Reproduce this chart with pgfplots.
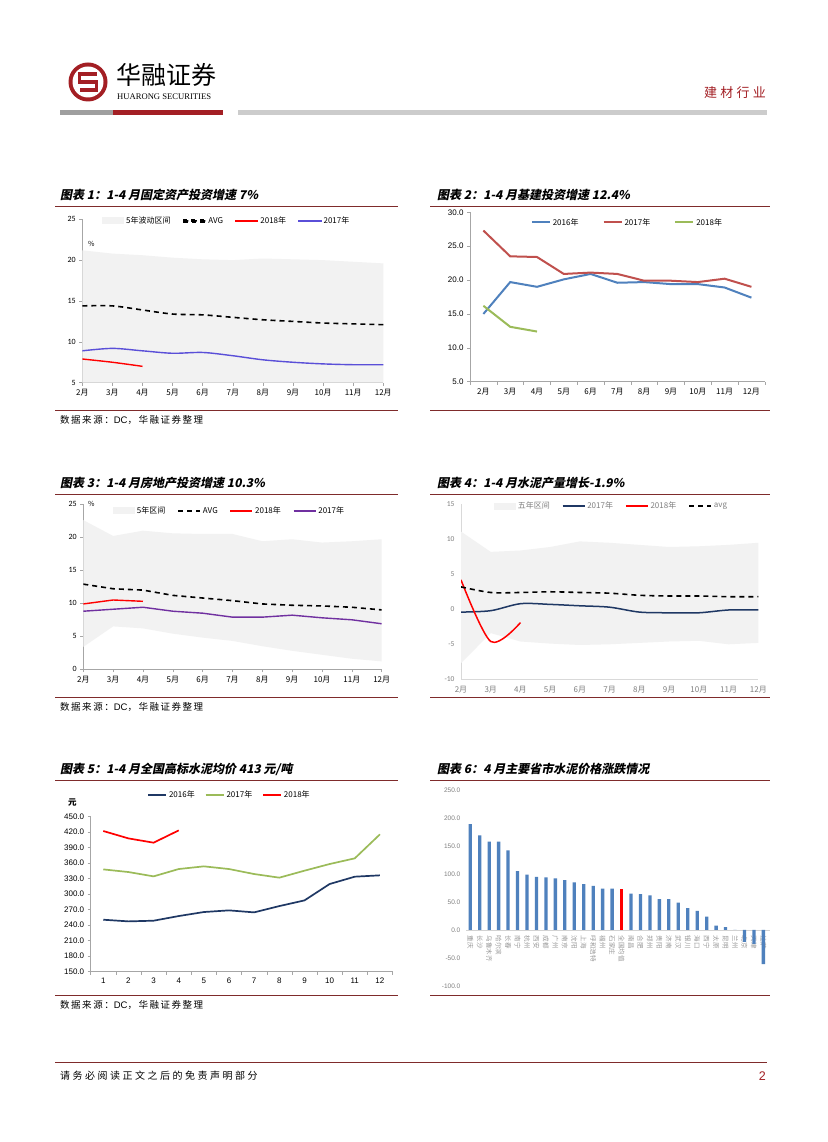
\documentclass[border=0pt]{standalone}
\usepackage{fontspec}
\setmainfont{Noto Sans CJK SC}
\newfontfamily\tfont{Noto Sans CJK SC}[FakeSlant=0.2]
\newfontfamily\spaced{Noto Sans CJK SC}[LetterSpace=25]
\newfontfamily\srcfont{Noto Sans CJK SC}[LetterSpace=16]
\newfontfamily\carl{Carlito}
\newfontfamily\arial{Liberation Sans}
\newfontfamily\tms{Liberation Serif}
\usepackage{pgfplots}
\pgfplotsset{compat=1.18}

\definecolor{hrred}{HTML}{A31F24}
\definecolor{rulec}{HTML}{7F2B2B}
\definecolor{band}{HTML}{F2F2F2}
\definecolor{c1blue}{HTML}{5A4FD8}
\definecolor{xlblue}{HTML}{4F81BD}
\definecolor{xlred}{HTML}{C0504D}
\definecolor{xlgreen}{HTML}{9BBB59}
\definecolor{navy}{HTML}{1F3864}
\definecolor{purp}{HTML}{7030A0}
\definecolor{axgray}{HTML}{A6A6A6}
\definecolor{txtgray}{HTML}{7F7F7F}

\tikzset{avgline/.style={black, line width=1.6pt, dash pattern=on 5pt off 4pt}}

\pgfplotsset{
  pagechart/.style={
    scale only axis, anchor=south west,
    axis x line*=bottom, axis y line*=left,
    axis line style={-, draw=axgray, line width=0.6pt},
    tick style={draw=axgray, line width=0.5pt},
    tick align=outside, major tick length=3pt,
    /pgf/number format/assume math mode=true,
    xticklabel style={font=\fontsize{8}{9}\selectfont},
    yticklabel style={font=\carl\fontsize{8}{9}\selectfont},
    legend style={draw=none, fill=none, font=\fontsize{8}{9}\selectfont,
      legend columns=-1, /tikz/every even column/.append style={column sep=10pt}},
    legend cell align=left,
  },
  % explicit legend samples
  leg/.style={legend image code/.code={\draw[#1] (0pt,0pt) -- (22pt,0pt);}},
  legs/.style={legend image code/.code={\draw[#1] (0pt,0pt) -- (18pt,0pt);}},
  % filled bar as line sample
  legf/.style={legend image code/.code={\fill[#1] (0pt,-0.7pt) rectangle (22pt,0.7pt);}},
  legdash/.style={legend image code/.code={\fill[black] (0pt,-0.8pt) rectangle (5pt,0.8pt) (8.5pt,-0.8pt) rectangle (13.5pt,0.8pt) (17pt,-0.8pt) rectangle (22pt,0.8pt);}},
  bandlegend/.style={legend image code/.code={\fill[band] (0pt,-3.5pt) rectangle (22pt,3.5pt);}},
  months/.style={xtick={2,...,12}, xticklabels={2月,3月,4月,5月,6月,7月,8月,9月,10月,11月,12月}},
}

\begin{document}
\begin{tikzpicture}[x=1pt,y=1pt]
\useasboundingbox (0,0) rectangle (827,1142);
\fill[white] (0,0) rectangle (827,1142);

% header
\fill[hrred] (88,1060) circle (19.5);
\fill[white] (88,1060) circle (15.5);
\draw[hrred, line width=3.6pt] (96.5,1068) -- (79.5,1068) -- (79.5,1060) -- (96.5,1060) -- (96.5,1052) -- (79.5,1052);
\node[anchor=west, inner sep=0] at (116,1067) {\fontsize{25}{25}\selectfont 华融证券};
\node[anchor=west, inner sep=0] at (117,1045) {\tms\fontsize{8.6}{9}\selectfont HUARONG SECURITIES};
\node[anchor=east, inner sep=0, text=hrred] at (766,1049) {\spaced\fontsize{13}{14}\selectfont 建材行业};
\fill[gray!75] (60,1027) rectangle (113,1032);
\fill[hrred] (113,1027) rectangle (223,1032);
\fill[gray!40] (238,1027) rectangle (767,1032);

% titles and rules
\node[anchor=west, inner sep=0] at (60,947) {\tfont\bfseries\fontsize{12}{13}\selectfont 图表 1：1-4 月固定资产投资增速 7\%};
\node[anchor=west, inner sep=0] at (437,947) {\tfont\bfseries\fontsize{12}{13}\selectfont 图表 2：1-4 月基建投资增速 12.4\%};
\node[anchor=west, inner sep=0] at (60,659) {\tfont\bfseries\fontsize{12}{13}\selectfont 图表 3：1-4 月房地产投资增速 10.3\%};
\node[anchor=west, inner sep=0] at (437,659) {\tfont\bfseries\fontsize{12}{13}\selectfont 图表 4：1-4 月水泥产量增长-1.9\%};
\node[anchor=west, inner sep=0] at (60,373) {\tfont\bfseries\fontsize{12}{13}\selectfont 图表 5：1-4 月全国高标水泥均价 413 元/吨};
\node[anchor=west, inner sep=0] at (437,373) {\tfont\bfseries\fontsize{12}{13}\selectfont 图表 6：4 月主要省市水泥价格涨跌情况};

\foreach \yy in {936,648,362} {
  \draw[rulec, line width=0.9pt] (55,\yy) -- (398,\yy);
  \draw[rulec, line width=0.9pt] (430,\yy) -- (770,\yy);
}
\foreach \yy in {732,445,147} {
  \draw[rulec, line width=0.7pt] (55,\yy) -- (398,\yy);
  \draw[rulec, line width=0.7pt] (430,\yy) -- (770,\yy);
}
\foreach \yy in {722,435,137} {
  \node[anchor=west, inner sep=0] at (60,\yy) {\srcfont\fontsize{9.5}{10}\selectfont 数据来源：{\arial DC}，华融证券整理};
}

% footer
\draw[rulec, line width=1pt] (55,79) -- (767,79);
\node[anchor=west, inner sep=0] at (60,66) {\spaced\fontsize{10}{11}\selectfont 请务必阅读正文之后的免责声明部分};
\node[anchor=east, inner sep=0, text=hrred] at (766,66) {\arial\fontsize{12.5}{13}\selectfont 2};

% chart 1
\begin{axis}[pagechart, at={(82.3pt,759.3pt)}, width=301pt, height=163.4pt,
  xmin=2, xmax=12, ymin=5, ymax=25, months, ytick={5,10,...,25},
  legend style={at={(0.48,0.99)}, anchor=center}]
\addplot[fill=band, draw=none, bandlegend] coordinates {(2,21.2)(3,20.8)(4,20.6)(5,20.3)(6,20.1)(7,20.0)(8,20.2)(9,20.1)(10,20.0)(11,19.8)(12,19.6)(12,5)(2,5)} -- cycle;
\addplot[avgline, smooth, legdash] coordinates {(2,14.4)(3,14.4)(4,13.9)(5,13.4)(6,13.3)(7,13.0)(8,12.7)(9,12.5)(10,12.3)(11,12.2)(12,12.1)};
\addplot[red, line width=1.4pt, smooth, legf=red] coordinates {(2,7.9)(3,7.5)(4,7.0)};
\addplot[c1blue, line width=1.4pt, smooth, legf=c1blue] coordinates {(2,8.9)(3,9.2)(4,8.9)(5,8.6)(6,8.7)(7,8.3)(8,7.8)(9,7.5)(10,7.3)(11,7.2)(12,7.2)};
\legend{5年波动区间,AVG,2018年,2017年}
\end{axis}
\node[anchor=west, inner sep=0] at (88,898) {\fontsize{7}{8}\selectfont \%};

% chart 2
\begin{axis}[pagechart, at={(470pt,760.3pt)}, width=294.8pt, height=169.4pt,
  xmin=1.5, xmax=12.5, ymin=5, ymax=30, months, ytick={5,10,...,30},
  every major x tick/.append style={draw=none},
  minor xtick={1.5,2.5,...,12.5},
  yticklabel style={font=\arial\fontsize{8}{9}\selectfont, /pgf/number format/.cd, fixed, fixed zerofill, precision=1},
  legend style={at={(0.534,0.94)}, anchor=center, /tikz/every even column/.append style={column sep=22pt}}]
\addplot[xlblue, line width=2pt, legs={xlblue, line width=2pt}] coordinates {(2,15.0)(3,19.7)(4,19.0)(5,20.1)(6,20.9)(7,19.6)(8,19.7)(9,19.4)(10,19.4)(11,18.9)(12,17.4)};
\addplot[xlred, line width=2pt, legs={xlred, line width=2pt}] coordinates {(2,27.3)(3,23.5)(4,23.4)(5,20.9)(6,21.1)(7,20.9)(8,19.9)(9,19.9)(10,19.7)(11,20.2)(12,19.0)};
\addplot[xlgreen, line width=2pt, legs={xlgreen, line width=2pt}] coordinates {(2,16.2)(3,13.1)(4,12.4)};
\legend{2016年,2017年,2018年}
\end{axis}

% chart 3
\begin{axis}[pagechart, at={(83.3pt,472.7pt)}, width=298.4pt, height=165pt,
  xmin=2, xmax=12, ymin=0, ymax=25, months, ytick={0,5,...,25},
  legend style={at={(0.49,0.96)}, anchor=center}]
\addplot[fill=band, draw=none, bandlegend] coordinates {(2,22.6)(3,20.2)(4,21.0)(5,20.6)(6,20.5)(7,20.5)(8,19.4)(9,19.7)(10,19.2)(11,19.4)(12,19.7)(12,1.2)(11,1.6)(10,2.2)(9,2.8)(8,3.5)(7,4.3)(6,4.8)(5,5.4)(4,6.2)(3,6.5)(2,3.4)} -- cycle;
\addplot[avgline, leg={avgline}] coordinates {(2,12.9)(3,12.2)(4,12.0)(5,11.2)(6,10.8)(7,10.4)(8,9.9)(9,9.7)(10,9.6)(11,9.4)(12,9.0)};
\addplot[red, line width=1.4pt, leg={red, line width=1.4pt}] coordinates {(2,9.9)(3,10.5)(4,10.3)};
\addplot[purp, line width=1.4pt, leg={purp, line width=1.4pt}] coordinates {(2,8.8)(3,9.1)(4,9.4)(5,8.8)(6,8.5)(7,7.9)(8,7.9)(9,8.2)(10,7.8)(11,7.5)(12,6.9)};
\legend{5年区间,AVG,2018年,2017年}
\end{axis}
\node[anchor=west, inner sep=0] at (88,638) {\fontsize{7}{8}\selectfont \%};

% chart 4
\begin{axis}[pagechart, at={(461pt,462.7pt)}, width=297.3pt, height=175pt,
  xmin=2, xmax=12, ymin=-10, ymax=15, months, ytick={-10,-5,...,15},
  axis line style={-, draw=gray!30}, tick style={draw=none},
  xticklabel style={text=txtgray}, yticklabel style={text=txtgray, font=\carl\fontsize{7.5}{9}\selectfont},
  legend style={at={(0.506,0.99)}, anchor=center, text=txtgray}]
\addplot[fill=band, draw=none, bandlegend] coordinates {(2,11.1)(3,8.2)(4,8.4)(5,8.9)(6,9.7)(7,9.5)(8,9.2)(9,8.9)(10,9.0)(11,9.2)(12,9.5)(12,-4.8)(11,-5.0)(10,-4.5)(9,-4.6)(8,-4.8)(7,-5.0)(6,-5.1)(5,-4.9)(4,-4.6)(3,-3.4)(2,-7.7)} -- cycle;
\addplot[navy, line width=1.5pt, smooth, leg={navy, line width=1.5pt}] coordinates {(2,-0.4)(3,-0.2)(4,0.8)(5,0.7)(6,0.5)(7,0.3)(8,-0.4)(9,-0.5)(10,-0.5)(11,-0.1)(12,-0.1)};
\addplot[red, line width=1.5pt, smooth, leg={red, line width=1.5pt}] coordinates {(2,4.2)(3,-4.6)(4,-1.9)};
\addplot[avgline, smooth, leg={avgline}] coordinates {(2,3.2)(3,2.4)(4,2.4)(5,2.5)(6,2.4)(7,2.3)(8,2.0)(9,1.9)(10,1.9)(11,1.8)(12,1.8)};
\legend{五年区间,2017年,2018年,avg}
\end{axis}

% chart 5
\begin{axis}[pagechart, at={(90.7pt,170.3pt)}, width=301.8pt, height=155pt,
  xmin=0.5, xmax=12.5, ymin=150, ymax=450, xtick={1,...,12}, ytick={150,180,...,450},
  every major x tick/.append style={draw=none},
  minor xtick={0.5,1.5,...,12.5},
  xticklabel style={font=\arial\fontsize{8}{9}\selectfont},
  yticklabel style={font=\arial\fontsize{8}{9}\selectfont, /pgf/number format/.cd, fixed, fixed zerofill, precision=1},
  legend style={at={(0.46,1.14)}, anchor=center, /tikz/every even column/.append style={column sep=8pt}}]
\addplot[navy, line width=1.7pt, legs={navy, line width=1.7pt}] coordinates {(1,250.6)(2,247.4)(3,248.7)(4,257.7)(5,265.5)(6,268.7)(7,264.8)(8,277)(9,288)(10,319.7)(11,333.9)(12,336.5)};
\addplot[xlgreen, line width=1.7pt, legs={xlgreen, line width=1.7pt}] coordinates {(1,348)(2,342.9)(3,334.5)(4,348.7)(5,353.9)(6,348.7)(7,339)(8,332)(9,345.5)(10,358.4)(11,369.4)(12,415.8)};
\addplot[red, line width=1.7pt, legs={red, line width=1.7pt}] coordinates {(1,422.3)(2,408)(3,399.7)(4,423.5)};
\legend{2016年,2017年,2018年}
\end{axis}
\node[anchor=west, inner sep=0] at (68,339) {\bfseries\fontsize{8.5}{9}\selectfont 元};

% chart 6
\begin{axis}[scale only axis, anchor=south west, at={(466pt,156pt)}, width=304pt, height=196pt,
  xmin=-0.45, xmax=31.7, ymin=-100, ymax=250,
  axis x line=middle, axis y line=left,
  x axis line style={-, draw=gray!35}, y axis line style={draw=none},
  hide obscured x ticks=false, hide obscured y ticks=false,
  tick style={draw=none},
  ytick={-100,-50,...,250}, xtick={0,...,31},
  xticklabels={重庆,长沙,乌鲁木齐,哈尔滨,长春,南宁,杭州,西安,成都,广州,南京,沈阳,上海,呼和浩特,福州,石家庄,全国均值,南昌,合肥,郑州,贵阳,济南,武汉,银川,海口,西宁,太原,昆明,兰州,北京,天津,拉萨},
  xticklabel style={rotate=-90, anchor=west, inner sep=1.5pt, text=gray!80, font=\fontsize{6.5}{7}\selectfont},
  /pgf/number format/assume math mode=true,
  yticklabel style={text=txtgray, font=\arial\fontsize{6.5}{7}\selectfont, /pgf/number format/.cd, fixed, fixed zerofill, precision=1},
  ybar, bar width=3.3pt]
\addplot[fill=xlblue, draw=none, bar shift=0pt] coordinates {(0,189)(1,169)(2,158)(3,158)(4,142)(5,105)(6,99)(7,95)(8,94)(9,92)(10,89)(11,85)(12,82)(13,79)(14,74)(15,74)(17,65)(18,64)(19,62)(20,55)(21,55)(22,49)(23,39)(24,34)(25,24)(26,8)(27,5)(28,0)(29,-21)(30,-25)(31,-61)};
\addplot[fill=red, draw=none, bar shift=0pt] coordinates {(16,73)};
\end{axis}
\end{tikzpicture}
\end{document}
